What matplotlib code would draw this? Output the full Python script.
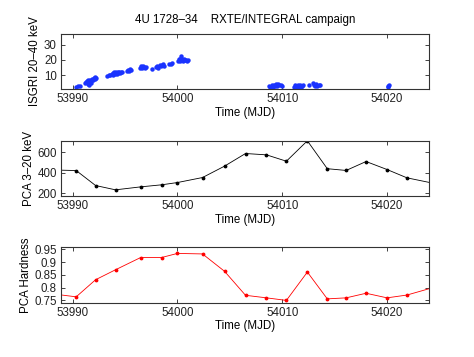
import matplotlib
matplotlib.use('Agg')
import matplotlib.pyplot as plt

plt.rcParams['font.family'] = ['Liberation Sans', 'DejaVu Sans']
plt.rcParams['font.size'] = 8.3

# ISGRI 20-40 keV count rate (many short pointings)
isgri_t = [53990.35, 53990.55, 53990.75,
           53991.2, 53991.3, 53991.35, 53991.45, 53991.5, 53991.55, 53991.6, 53991.7,
           53991.75, 53991.8, 53991.9, 53991.95, 53992.0, 53992.1, 53992.15, 53992.25,
           53993.3, 53993.45, 53993.6, 53993.75, 53993.85, 53993.9, 53994.0, 53994.05,
           53994.15, 53994.2, 53994.3, 53994.35, 53994.45, 53994.5, 53994.6, 53994.75,
           53995.2, 53995.3, 53995.4, 53995.45, 53995.55,
           53996.4, 53996.5, 53996.6, 53996.7, 53996.8, 53996.9, 53997.0,
           53997.6,
           53998.0, 53998.1, 53998.2, 53998.3, 53998.4, 53998.5, 53998.6, 53998.7,
           53999.2, 53999.35, 53999.5,
           54000.1, 54000.2, 54000.25, 54000.3, 54000.35, 54000.45, 54000.5, 54000.6,
           54000.7, 54000.8, 54000.9, 54001.0,
           54008.7, 54008.85, 54009.0, 54009.1, 54009.2, 54009.3, 54009.4, 54009.5,
           54009.6, 54009.7, 54009.85, 54010.0,
           54011.1, 54011.2, 54011.3, 54011.4, 54011.5, 54011.6, 54011.7, 54011.8,
           54011.9, 54012.0,
           54012.6, 54012.9, 54013.0, 54013.1, 54013.2, 54013.35, 54013.5, 54013.65,
           54020.05, 54020.1, 54020.15]
isgri_rate = [2.6, 2.9, 3.2,
              4.8, 5.5, 6.2, 4.2, 6.8, 5.9, 3.5, 7.0,
              6.1, 5.2, 7.5, 6.6, 8.0, 7.4, 8.6, 8.3,
              9.6, 10.0, 9.9, 10.6, 11.2, 10.1, 11.8, 10.7,
              12.0, 11.1, 12.4, 11.5, 12.1, 11.4, 12.2, 12.3,
              12.6, 13.4, 12.9, 14.0, 13.2,
              15.0, 15.8, 14.6, 16.1, 15.3, 14.8, 15.6,
              14.2,
              15.4, 16.3, 15.0, 16.8, 15.9, 16.4, 17.1, 16.0,
              17.2, 17.6, 17.9,
              19.2, 20.4, 19.0, 21.1, 22.6, 20.0, 19.5, 20.7,
              19.8, 20.2, 19.6, 20.0,
              3.0, 2.4, 3.3, 2.1, 3.6, 2.7, 4.0, 3.1,
              4.3, 3.5, 3.9, 3.2,
              2.6, 3.4, 2.2, 3.0, 3.8, 2.5, 3.3, 2.1,
              2.9, 3.5,
              3.6, 4.6, 3.8, 2.9, 4.0, 3.2, 3.7, 3.4,
              2.0, 2.9, 3.5]

# PCA pointings
pca_t = [53988.0, 53990.35, 53992.2, 53994.1, 53996.5, 53998.5, 54000.0, 54002.4,
         54004.5, 54006.5, 54008.5, 54010.4, 54012.4, 54014.3, 54016.1, 54018.0,
         54020.0, 54021.9, 54024.8]
pca_rate = [428, 422, 276, 234, 263, 283, 305, 354,
            465, 588, 575, 513, 712, 440, 423, 510,
            432, 351, 290]
pca_hard = [0.776, 0.764, 0.831, 0.870, 0.918, 0.918, 0.934, 0.932,
            0.864, 0.770, 0.760, 0.750, 0.861, 0.756, 0.760, 0.778,
            0.760, 0.771, 0.805]

xlim = (53988.9, 54024.0)
xticks = [53990, 54000, 54010, 54020]

fig = plt.figure(figsize=(4.74, 3.57), dpi=100)
ax1 = fig.add_axes([0.1287, 0.7507, 0.7763, 0.1541])
ax2 = fig.add_axes([0.1287, 0.4510, 0.7763, 0.1549])
ax3 = fig.add_axes([0.1287, 0.1521, 0.7763, 0.1552])

ax1.plot(isgri_t, isgri_rate, 'o', color=(0.1, 0.2, 1.0), ms=3.2, mew=0)
ax1.set_ylim(1, 37)
ax1.set_yticks([10, 20, 30])
ax1.set_ylabel('ISGRI 20\u201340 keV', labelpad=2)
ax1.set_title('4U 1728\u201334    RXTE/INTEGRAL campaign', fontsize=8.3, pad=8)

ax2.plot(pca_t, pca_rate, '.-', color='black', lw=0.6, ms=3.5)
ax2.set_ylim(174, 713)
ax2.set_yticks([200, 400, 600])
ax2.set_ylabel('PCA 3\u201320 keV', labelpad=2)

ax3.plot(pca_t, pca_hard, '.-', color='red', lw=0.6, ms=3.5)
ax3.set_ylim(0.741, 0.958)
ax3.set_yticks([0.75, 0.8, 0.85, 0.9, 0.95])
ax3.set_yticklabels(['0.75', '0.8', '0.85', '0.9', '0.95'])
ax3.set_ylabel('PCA Hardness', labelpad=2)

for ax in (ax1, ax2, ax3):
    ax.set_xlim(xlim)
    ax.set_xticks(xticks)
    ax.set_xticklabels([str(v) for v in xticks])
    ax.set_xlabel('Time (MJD)', labelpad=1)
    ax.tick_params(direction='in', top=True, right=True, length=3, width=0.6,
                   pad=3, colors='#222222')
    for s in ax.spines.values():
        s.set_linewidth(0.8)
        s.set_color('#333333')

fig.savefig('out.png', dpi=100)
